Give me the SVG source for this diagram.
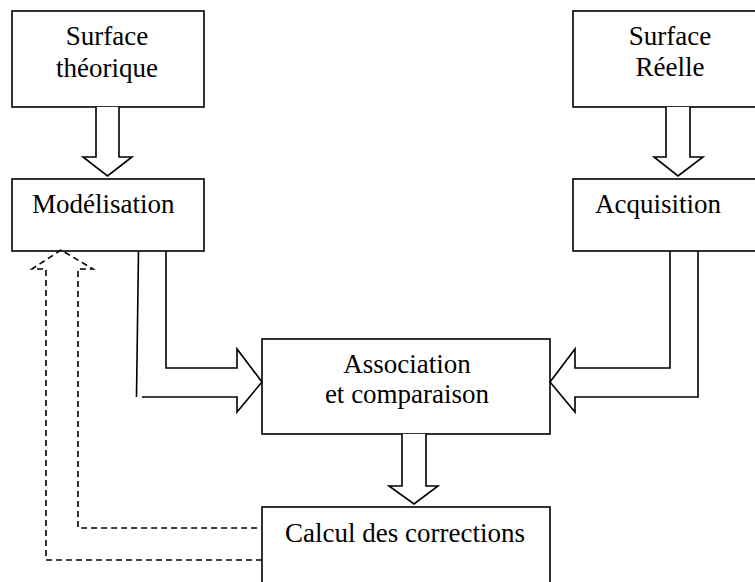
<svg xmlns="http://www.w3.org/2000/svg" width="755" height="582" viewBox="0 0 755 582">
  <style>
    .box { fill: #fff; stroke: #000; stroke-width: 1.6; }
    .arrow { fill: #fff; stroke: #000; stroke-width: 1.6; stroke-linejoin: miter; }
    .line { fill: none; stroke: #000; stroke-width: 1.6; stroke-linejoin: miter; }
    .dash { fill: none; stroke: #000; stroke-width: 1.6; stroke-dasharray: 6 4; }
    .label { font-family: "Liberation Serif", "Times New Roman", serif; font-size: 27px; fill: #000; }
    .c { text-anchor: middle; }
  </style>
  <rect width="755" height="582" fill="#fff"/>

  <g id="surface-theorique">
    <rect class="box" x="12" y="11" width="192" height="96"/>
    <text class="label c" x="107" y="45">Surface</text>
    <text class="label c" x="107" y="77">théorique</text>
  </g>

  <g id="surface-reelle">
    <rect class="box" x="573" y="11" width="200" height="96"/>
    <text class="label c" x="670" y="45">Surface</text>
    <text class="label c" x="670" y="76">Réelle</text>
  </g>

  <g id="modelisation">
    <rect class="box" x="12" y="179" width="192" height="72"/>
    <text class="label" x="32" y="213">Modélisation</text>
  </g>

  <g id="acquisition">
    <rect class="box" x="573" y="179" width="200" height="72"/>
    <text class="label" x="595" y="213">Acquisition</text>
  </g>

  <g id="association">
    <rect class="box" x="262" y="339" width="288" height="95"/>
    <text class="label c" x="407" y="373">Association</text>
    <text class="label c" x="407" y="403">et comparaison</text>
  </g>

  <g id="calcul">
    <rect class="box" x="262" y="507" width="288" height="90"/>
    <text class="label c" x="405" y="542">Calcul des corrections</text>
  </g>

  <g id="connectors">
    <!-- block arrows down -->
    <path class="arrow" d="M96,107 L96,157 L83,157 L107.5,176 L132,157 L119,157 L119,107"/>
    <path class="arrow" d="M666,107 L666,157 L654,157 L678,176 L703,157 L690,157 L690,107"/>
    <path class="arrow" d="M402,434 L402,486 L389,486 L414,504 L438,486 L426,486 L426,434"/>

    <!-- bent arrow from Modélisation into Association -->
    <path class="line" d="M138.5,251 L136.5,397"/>
    <path class="line" d="M166,251 L166,368 L237,368 L237,349 L262,382 L237,412 L237,397 L142,397"/>

    <!-- bent arrow from Acquisition into Association -->
    <path class="line" d="M670,251 L670,368 L575,368 L575,349 L550,382 L575,412 L575,397 L698,397 L698,251"/>

    <!-- dashed feedback arrow from Calcul des corrections back to Modélisation -->
    <path class="dash" d="M262,560 L46,560 L46,269 L32,269 L61,250 L93,269 L78,269 L78,528 L262,528"/>
  </g>
</svg>
